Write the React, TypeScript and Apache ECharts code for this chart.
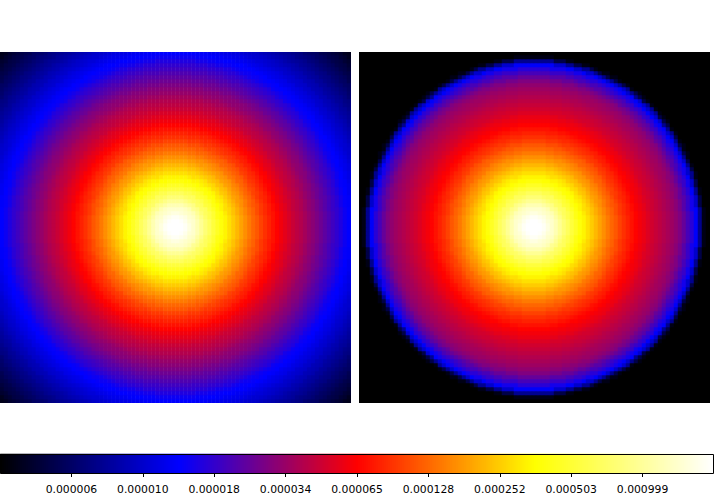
import React, { useEffect, useRef } from "react";
import * as echarts from "echarts";

// Tick labels of the shared colour bar, at tenths of its length.
const tickLabels = ["0.000006", "0.000010", "0.000018", "0.000034", "0.000065", "0.000128", "0.000252", "0.000503", "0.000999"];
const tickPositions = [1, 2, 3, 4, 5, 6, 7, 8, 9];

// Both panels are radially symmetric: colour-bar position (0..1) read from the
// picture, one reading per 2 px ring outwards from the centre.
const leftRings = [
  1, 1, 1, 1, 0.995, 0.99, 0.98, 0.97, 0.96, 0.95, 0.94, 0.925, 0.91, 0.895, 0.88, 0.865,
  0.85, 0.84, 0.825, 0.81, 0.8, 0.785, 0.77, 0.76, 0.75, 0.74, 0.73, 0.72, 0.71, 0.7, 0.69, 0.68,
  0.67, 0.66, 0.65, 0.64, 0.63, 0.62, 0.61, 0.6, 0.595, 0.585, 0.575, 0.565, 0.555, 0.547, 0.54, 0.532,
  0.525, 0.517, 0.51, 0.502, 0.495, 0.487, 0.48, 0.475, 0.47, 0.462, 0.455, 0.447, 0.44, 0.435, 0.43, 0.425,
  0.42, 0.412, 0.405, 0.397, 0.39, 0.385, 0.38, 0.372, 0.365, 0.357, 0.35, 0.342, 0.335, 0.327, 0.32, 0.312,
  0.305, 0.297, 0.29, 0.28, 0.27, 0.262, 0.255, 0.25, 0.245, 0.237, 0.23, 0.225, 0.22, 0.212, 0.205, 0.2,
  0.195, 0.187, 0.18, 0.175, 0.17, 0.162, 0.155, 0.15, 0.145, 0.137, 0.13, 0.125, 0.12, 0.112, 0.105, 0.1,
  0.095, 0.087, 0.08, 0.075, 0.07, 0.065, 0.06, 0.052, 0.045, 0.037, 0.03, 0.025, 0.02,
];
const rightRings = [
  1, 1, 1, 1, 0.995, 0.99, 0.98, 0.97, 0.96, 0.95, 0.94, 0.925, 0.91, 0.895, 0.88, 0.865,
  0.85, 0.84, 0.825, 0.81, 0.8, 0.785, 0.77, 0.76, 0.75, 0.74, 0.73, 0.72, 0.71, 0.7, 0.69, 0.68,
  0.67, 0.66, 0.65, 0.64, 0.63, 0.62, 0.61, 0.6, 0.595, 0.585, 0.575, 0.565, 0.555, 0.547, 0.54, 0.532,
  0.525, 0.517, 0.51, 0.502, 0.495, 0.49, 0.485, 0.48, 0.475, 0.467, 0.46, 0.455, 0.45, 0.445, 0.44, 0.435,
  0.43, 0.425, 0.42, 0.415, 0.41, 0.405, 0.4, 0.392, 0.385, 0.375, 0.365, 0.35, 0.335, 0.32, 0.305, 0.29,
  0.27, 0.245, 0.2, 0.14, 0.07, 0.02, 0,
];
const colormap = ["#000000", "#0000ff", "#ff0000", "#ffff00", "#ffffff"];

const CELLS = 88;
const RINGS_PER_CELL = 2;
const cellIndex = Array.from({ length: CELLS }, (_, i) => String(i));
const barSteps = Array.from({ length: 357 }, (_, i) => String(i));

function panelCells(rings: number[]) {
  const out: number[][] = [];
  const mid = (CELLS - 1) / 2;
  for (let y = 0; y < CELLS; y++) {
    for (let x = 0; x < CELLS; x++) {
      const ring = Math.round(Math.hypot(x - mid, y - mid) * RINGS_PER_CELL);
      out.push([x, y, ring < rings.length ? rings[ring] : rings[rings.length - 1]]);
    }
  }
  return out;
}

const hiddenAxis = (data: string[], gridIndex: number) => ({
  type: "category" as const,
  data,
  gridIndex,
  show: false,
});

// White masks that trim the panels to their exact frame.
const mask = (x: number, y: number, width: number, height: number) => ({
  type: "rect" as const,
  z: 90,
  shape: { x, y, width, height },
  style: { fill: "#ffffff" },
  silent: true,
});

export default function App() {
  const ref = useRef<HTMLDivElement>(null);
  useEffect(() => {
    document.body.style.margin = "0";
    const chart = echarts.init(ref.current!, null, { renderer: "svg" });
    chart.setOption({
      animation: false,
      backgroundColor: "#ffffff",
      textStyle: { fontFamily: "DejaVu Sans" },
      grid: [
        { left: -1, top: 51, width: 352, height: 352 },
        { left: 358, top: 51, width: 352, height: 352 },
        { left: 0, top: 454, width: 714, height: 19 },
      ],
      xAxis: [
        hiddenAxis(cellIndex, 0),
        hiddenAxis(cellIndex, 1),
        hiddenAxis(barSteps, 2),
        {
          type: "value",
          gridIndex: 2,
          min: 0,
          max: 10,
          position: "bottom",
          splitLine: { show: false },
          axisLine: { show: false },
          axisTick: { show: true, length: 4, lineStyle: { color: "#000", width: 1 }, customValues: tickPositions },
          axisLabel: {
            show: true,
            color: "#000",
            fontSize: 10.8,
            fontFamily: "DejaVu Sans",
            margin: 11,
            customValues: tickPositions,
            formatter: (v: number) => tickLabels[Math.round(v) - 1] ?? "",
          },
        },
      ],
      yAxis: [
        hiddenAxis(cellIndex, 0),
        hiddenAxis(cellIndex, 1),
        hiddenAxis(["0"], 2),
      ],
      visualMap: {
        show: false,
        type: "continuous",
        min: 0,
        max: 1,
        seriesIndex: [0, 1, 2],
        dimension: 2,
        inRange: { color: colormap },
      },
      series: [
        { type: "heatmap", xAxisIndex: 0, yAxisIndex: 0, data: panelCells(leftRings), progressive: 0, silent: true },
        { type: "heatmap", xAxisIndex: 1, yAxisIndex: 1, data: panelCells(rightRings), progressive: 0, silent: true },
        {
          type: "heatmap",
          xAxisIndex: 2,
          yAxisIndex: 2,
          data: barSteps.map((_, i) => [i, 0, i / (barSteps.length - 1)]),
          progressive: 0,
          silent: true,
        },
      ],
      graphic: [
        mask(0, 40, 714, 12),
        mask(351, 40, 8, 370),
        mask(0, 403, 714, 6),
        mask(710, 40, 4, 370),
        {
          type: "rect",
          z: 100,
          shape: { x: 0.5, y: 454.5, width: 713, height: 19 },
          style: { fill: "none", stroke: "#000", lineWidth: 1 },
          silent: true,
        },
      ],
    });
    return () => chart.dispose();
  }, []);
  return <div ref={ref} style={{ width: 714, height: 499, overflow: "hidden" }} />;
}
